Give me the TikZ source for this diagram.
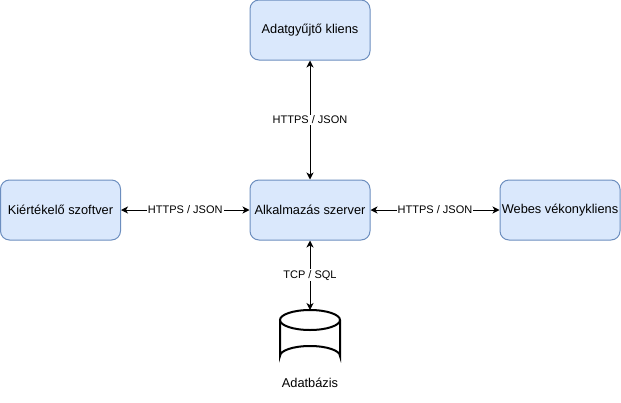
\documentclass[tikz,border=0pt]{standalone}
\usepackage{fontspec}
\setmainfont{Liberation Sans}
\usetikzlibrary{arrows.meta,shapes.geometric}
\definecolor{boxfill}{HTML}{DAE8FC}
\definecolor{boxdraw}{HTML}{6C8EBF}
\tikzset{
  compbox/.style={draw=boxdraw, fill=boxfill, rounded corners=9pt, line width=1pt,
    minimum width=120pt, minimum height=60pt, inner sep=0pt,
    font=\fontsize{12.8}{15}\selectfont},
  conn/.style={line width=1pt, {Stealth[length=7pt,width=7pt,inset=2pt]}-{Stealth[length=7pt,width=7pt,inset=2pt]}},
  elabel/.style={fill=white, inner sep=1pt, font=\fontsize{11}{13}\selectfont},
}
\begin{document}
\begin{tikzpicture}[x=1pt,y=-1pt]
\useasboundingbox (0,0) rectangle (621,402);
\node[compbox] (top) at (310,30) {Adatgyűjtő kliens};
\node[compbox] (left) at (60.5,210) {Kiértékelő szoftver};
\node[compbox] (center) at (310,210) {Alkalmazás szerver};
\node[compbox] (right) at (560,210) {Webes vékonykliens};
% cylinder
\coordinate (dbtop) at (310,310);
\draw[line width=2pt, fill=white] (280,320) -- (280,356) arc[start angle=180,end angle=360,x radius=30,y radius=10] -- (340,320);
\draw[line width=2pt, fill=white] (310,320) ellipse[x radius=30,y radius=10];
\node[font=\fontsize{12.8}{15}\selectfont] (dblabel) at (310,383) {Adatbázis};
\draw[conn] (top) -- node[elabel] {HTTPS / JSON} (center);
\draw[conn] (left) -- node[elabel] {HTTPS / JSON} (center);
\draw[conn] (center) -- node[elabel] {HTTPS / JSON} (right);
\draw[conn] (center) -- node[elabel] {TCP / SQL} (dbtop);
\end{tikzpicture}
\end{document}
